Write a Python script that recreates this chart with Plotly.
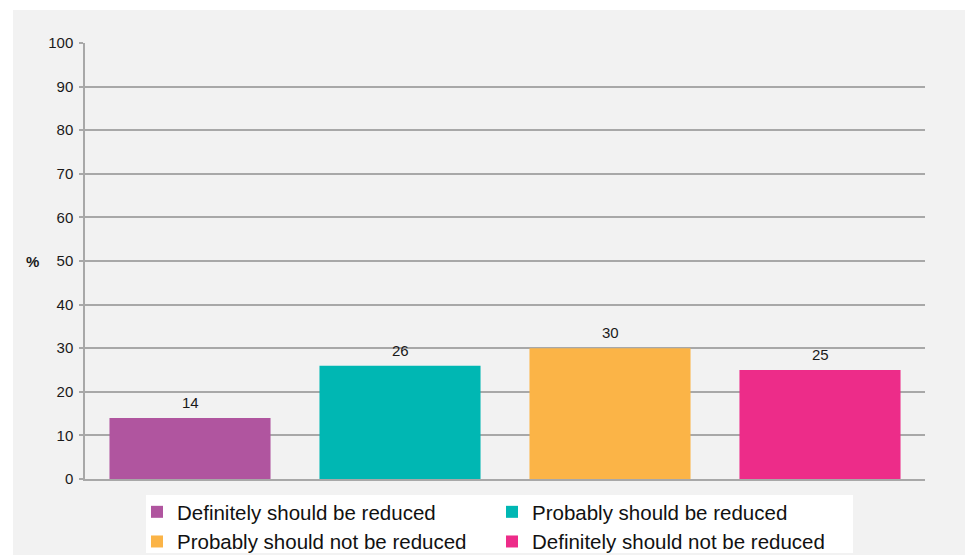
import plotly.graph_objects as go

categories = ["Definitely should be reduced", "Probably should be reduced",
              "Probably should not be reduced", "Definitely should not be reduced"]
values = [14, 26, 30, 25]
colors = ["#B0559F", "#00B7B3", "#FBB447", "#ED2C89"]
y_ticks = [0, 10, 20, 30, 40, 50, 60, 70, 80, 90, 100]

W, H = 968, 555
L, R, T, B = 85, 43, 43, 76
pw, ph = W - L - R, H - T - B
FONT = "Liberation Sans, Arial, sans-serif"

def px_x(p):
    return (p - L) / pw

def px_y(p):
    return (H - B - p) / ph

fig = go.Figure()
for name, v, c in zip(categories, values, colors):
    fig.add_trace(go.Bar(
        x=[name], y=[v], name=name,
        marker=dict(color=c, line=dict(width=0)),
        hoverinfo="skip",
    ))

annotations = []
for name, v in zip(categories, values):
    annotations.append(dict(
        x=name, y=v, xref="x", yref="y", text=str(v), showarrow=False,
        yanchor="bottom", yshift=5,
        font=dict(size=15, color="#1a1a1a", family=FONT),
    ))
annotations.append(dict(
    x=px_x(32), y=50, xref="paper", yref="y", text="<b>%</b>", showarrow=False,
    xanchor="center", yanchor="middle",
    font=dict(size=15, color="#1a1a1a", family=FONT),
))

shapes = [
    dict(type="rect", xref="paper", yref="paper", layer="below",
         x0=px_x(13), x1=px_x(965), y0=px_y(556), y1=px_y(10),
         fillcolor="#f2f2f2", line=dict(width=0)),
    dict(type="rect", xref="paper", yref="paper", layer="below",
         x0=px_x(146), x1=px_x(853), y0=px_y(553), y1=px_y(495),
         fillcolor="#ffffff", line=dict(width=0)),
]

fig.update_layout(
    width=W, height=H,
    margin=dict(l=L, r=R, t=T, b=B, pad=0, autoexpand=False),
    paper_bgcolor="#ffffff",
    plot_bgcolor="rgba(0,0,0,0)",
    barmode="overlay",
    bargap=0.233,
    font=dict(family=FONT, color="#1a1a1a"),
    showlegend=True,
    legend=dict(
        orientation="h", x=px_x(137), y=px_y(492), xanchor="left", yanchor="top",
        xref="paper", yref="paper",
        bgcolor="rgba(0,0,0,0)", entrywidth=310, entrywidthmode="pixels",
        font=dict(size=20.5, color="#111111", family=FONT), tracegroupgap=0,
        traceorder="normal",
    ),
    annotations=annotations,
    shapes=shapes,
    xaxis=dict(
        showticklabels=False, ticks="", showgrid=False,
        showline=True, linecolor="#a8a8a8", linewidth=1.5,
        fixedrange=True,
    ),
    yaxis=dict(
        range=[0, 100], tickvals=y_ticks, ticktext=[str(t) for t in y_ticks],
        showgrid=True, gridcolor="#a8a8a8", gridwidth=1.5,
        zeroline=False,
        showline=True, linecolor="#a8a8a8", linewidth=1.5,
        ticks="outside", ticklen=4, tickcolor="#a8a8a8", tickwidth=1.5,
        ticklabelstandoff=3,
        tickfont=dict(size=15, color="#1a1a1a", family=FONT),
        fixedrange=True,
    ),
)

fig.write_html("out.html")
